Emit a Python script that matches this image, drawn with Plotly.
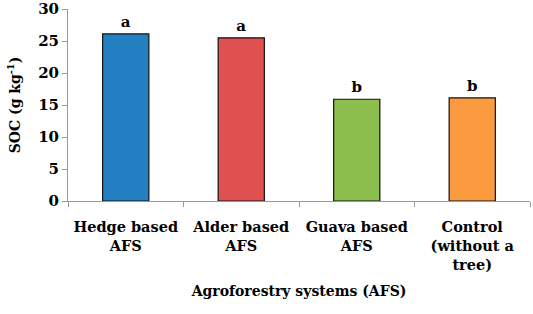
import plotly.graph_objects as go

categories = ["Hedge based<br>AFS", "Alder based<br>AFS", "Guava based<br>AFS", "Control<br>(without a<br>tree)"]
soc_values = [26.1, 25.5, 15.9, 16.1]
letters = ["a", "a", "b", "b"]
colors = ["#2480c3", "#e05050", "#8dbf4f", "#fb9a3e"]
y_ticks = [0, 5, 10, 15, 20, 25, 30]

ff = "DejaVu Serif"

fig = go.Figure()
fig.add_trace(go.Bar(
    x=categories, y=soc_values,
    marker=dict(color=colors, line=dict(color="#111111", width=1.2)),
    width=0.4,
    text=["<b>%s</b>" % l for l in letters],
    textposition="outside",
    textfont=dict(family=ff, size=15, color="black"),
    cliponaxis=False,
))

fig.update_layout(
    width=533, height=314,
    margin=dict(l=68, r=3, t=9, b=113, autoexpand=False),
    plot_bgcolor="white", paper_bgcolor="white",
    showlegend=False,
    font=dict(family=ff, color="black"),
)
fig.update_xaxes(
    automargin=False,
    tickangle=0,
    showline=True, linecolor="#999999", linewidth=1,
    ticks="outside", tickson="boundaries", ticklen=5, tickcolor="#999999",
    ticklabelstandoff=13,
    tickfont=dict(family=ff, size=14.5, color="black", weight="bold"),
    title=dict(text="<b>Agroforestry systems (AFS)</b>", font=dict(family=ff, size=14), standoff=14),
)
fig.update_yaxes(
    automargin=False,
    range=[0, 30], tickvals=y_ticks,
    showline=True, linecolor="#999999", linewidth=1,
    ticks="outside", ticklen=5, tickcolor="#999999",
    ticklabeloverflow="allow",
    showgrid=False, zeroline=False,
    tickfont=dict(family=ff, size=15, color="black", weight="bold"),
    title=dict(text="<b>SOC (g kg<sup>-1</sup>)</b>", font=dict(family=ff, size=14), standoff=14),
)

fig.write_html("out.html", post_script="document.body.style.margin='0';",
               config={"displayModeBar": False})
